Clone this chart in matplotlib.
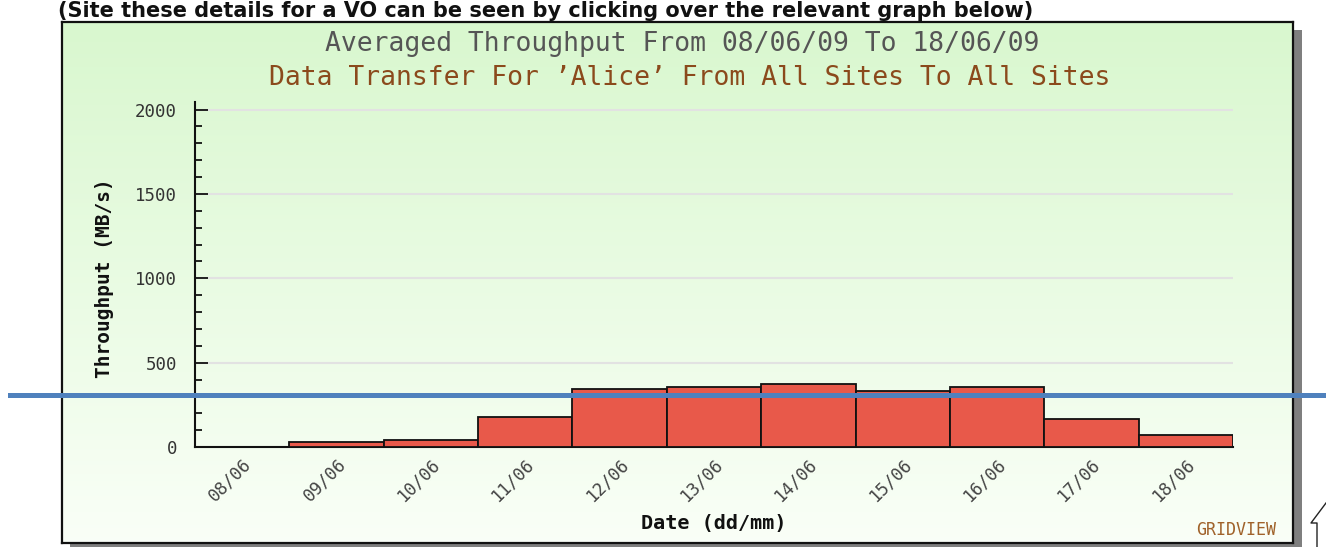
import numpy as np
import matplotlib
matplotlib.use("Agg")
import matplotlib.pyplot as plt
from matplotlib.patches import Rectangle
from matplotlib.ticker import MultipleLocator
from matplotlib.lines import Line2D

# ---- data ----
dates = ["08/06", "09/06", "10/06", "11/06", "12/06", "13/06",
         "14/06", "15/06", "16/06", "17/06", "18/06"]
throughput = [0, 28, 42, 176, 344, 354, 374, 334, 354, 164, 69]
y_ticks = [0, 500, 1000, 1500, 2000]

title1 = "Averaged Throughput From 08/06/09 To 18/06/09"
title2 = "Data Transfer For \u2019Alice\u2019 From All Sites To All Sites"
caption = "(Site these details for a VO can be seen by clicking over the relevant graph below)"

W, H = 1326, 547
fig = plt.figure(figsize=(W / 100, H / 100), dpi=100)
fig.patch.set_facecolor("white")

def fx(px):
    return px / W

def fy(py):
    return 1 - py / H

MONO = "DejaVu Sans Mono"

# shadow
fig.patches.append(Rectangle((fx(70), fy(548)), fx(1302) - fx(70), fy(30) - fy(548),
                             transform=fig.transFigure, facecolor="#7f7f7f",
                             edgecolor="none", zorder=0))
# panel with gradient
pan = fig.add_axes([fx(62), fy(543), fx(1293) - fx(62), fy(22) - fy(543)], zorder=1)
grad = np.linspace(0, 1, 256).reshape(-1, 1)
top = np.array([0.85, 0.97, 0.81])
bot = np.array([0.98, 1.0, 0.97])
img = top[None, None, :] * (1 - grad[:, :, None]) + bot[None, None, :] * grad[:, :, None]
pan.imshow(img, aspect="auto", extent=[0, 1, 0, 1], origin="upper")
pan.set_xticks([])
pan.set_yticks([])
for s in pan.spines.values():
    s.set_linewidth(1.6)
    s.set_color("#111111")

# main axes
ax = fig.add_axes([fx(195), fy(447), fx(1233) - fx(195), fy(102) - fy(447)], zorder=2)
ax.patch.set_alpha(0)
x = np.arange(len(dates))
ax.bar(x, throughput, width=1.0, color="#e8594a", edgecolor="#111111",
       linewidth=1.3, zorder=3)
ax.set_xlim(-0.5, len(dates) - 0.5)
ax.set_ylim(0, 2045)
ax.set_yticks(y_ticks)
ax.yaxis.set_minor_locator(MultipleLocator(100))
for t in y_ticks[1:]:
    ax.axhline(t, color="#e2e2e2", lw=1.5, zorder=1)
ax.set_xticks(x)
ax.set_xticklabels(dates, rotation=45, ha="right", va="top",
                   rotation_mode="anchor", fontfamily=MONO, fontsize=12.5,
                   color="#444444")
ax.tick_params(axis="x", length=0, pad=6)
ax.tick_params(axis="y", which="major", direction="in", length=9, width=1.2,
               labelsize=12.5, pad=13, labelcolor="#333333")
ax.tick_params(axis="y", which="minor", direction="in", length=5, width=1.2)
for lab in ax.get_yticklabels():
    lab.set_fontfamily(MONO)
ax.spines["top"].set_visible(False)
ax.spines["right"].set_visible(False)
ax.spines["left"].set_linewidth(1.5)
ax.spines["bottom"].set_linewidth(1.5)
ax.spines["left"].set_color("#111111")
ax.spines["bottom"].set_color("#111111")

# titles and labels
fig.text(fx(682), fy(44), title1, ha="center", va="center", fontfamily=MONO,
         fontsize=19, color="#555555", zorder=5)
fig.text(fx(690), fy(78), title2, ha="center", va="center", fontfamily=MONO,
         fontsize=19, color="#8b4a1c", zorder=5)
fig.text(fx(105), fy(278), "Throughput (MB/s)", rotation=90, ha="center",
         va="center", fontfamily=MONO, fontweight="bold", fontsize=14,
         color="#111111", zorder=5)
fig.text(fx(714), fy(523), "Date (dd/mm)", ha="center", va="center",
         fontfamily=MONO, fontweight="bold", fontsize=14.5, color="#111111", zorder=5)
fig.text(fx(1236), fy(530), "GRIDVIEW", ha="center", va="center",
         fontfamily=MONO, fontsize=12, color="#a0622a", zorder=5)

# caption at the very top
fig.text(fx(58), fy(17), caption, ha="left", va="baseline",
         fontfamily="DejaVu Sans", fontweight="bold",
         fontsize=15, color="#111111", zorder=0.5)

# blue overlay line
fig.add_artist(Line2D([fx(10), fx(1326)], [fy(395), fy(395)], color="#4f81bd",
                      lw=3.6, transform=fig.transFigure, zorder=10))
# callout fragment bottom right
fig.add_artist(Line2D([fx(1317), fx(1317), fx(1311), fx(1326)],
                      [fy(548), fy(523), fy(523), fy(503)], color="#222222",
                      lw=1.0, transform=fig.transFigure, zorder=10))

fig.savefig("out.png", dpi=100)
